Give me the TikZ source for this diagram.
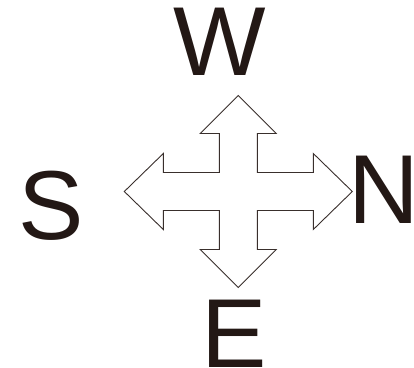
\documentclass[tikz,border=0pt]{standalone}
\usepackage{fontspec}
\setmainfont{Liberation Sans}
\definecolor{ink}{RGB}{35,24,21}
\begin{document}
\begin{tikzpicture}[x=1pt,y=-1pt,
  letter/.style={inner sep=0pt,outer sep=0pt,text=ink,font=\fontsize{98}{98}\selectfont},
  crossarrow/.style={draw=ink!90,line width=0.9pt,fill=white,line join=miter}]
\useasboundingbox (0,0) rectangle (414,367);
\coordinate (c) at (238.3,191.5);
\begin{scope}[shift={(c)}]
\draw[crossarrow] (0,-96) -- (38,-58) -- (19,-58) -- (19,-19) -- (75,-19) -- (75,-38)
  -- (114,0) -- (75,38) -- (75,19) -- (19,19) -- (19,58) -- (38,58) -- (0,96)
  -- (-38,58) -- (-19,58) -- (-19,19) -- (-75,19) -- (-75,38) -- (-114,0)
  -- (-75,-38) -- (-75,-19) -- (-19,-19) -- (-19,-58) -- (-38,-58) -- cycle;
\end{scope}
\node[letter,anchor=north] (w) at (220,8) {W};
\node[letter,anchor=north] (s) at (51,171) {S};
\node[letter,anchor=north] (n) at (383.5,156) {N};
\node[letter,anchor=north] (e) at (234,300) {E};
\end{tikzpicture}
\end{document}
